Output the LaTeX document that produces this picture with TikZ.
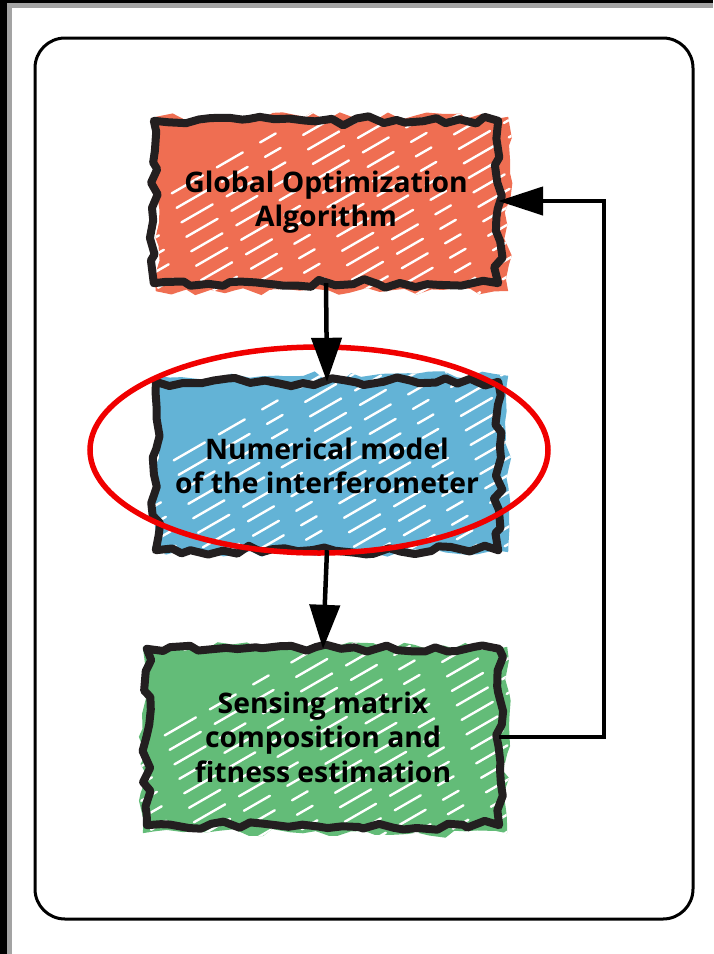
\documentclass[tikz,border=0pt]{standalone}
\usepackage{fontspec}
\setmainfont{Open Sans}
\usetikzlibrary{decorations.pathmorphing,arrows.meta,backgrounds,calc}
\definecolor{orfill}{HTML}{EF6E52}
\definecolor{blfill}{HTML}{63B3D6}
\definecolor{grfill}{HTML}{63BC78}
\definecolor{frgray}{HTML}{A3A3A3}
\definecolor{sketch}{HTML}{231F20}
\definecolor{ringred}{HTML}{F00000}
\newcommand\sketchbox[5]{%
  % #1 node, #2 colour, #3 seed, #4 fill offset NW, #5 fill offset SE
  \pgfmathsetseed{#3}
  \fill[#2, jag] ($(#1.north west)+#4$) rectangle ($(#1.south east)+#5$);
  \begin{scope}
    \pgfmathsetseed{#3}
    \clip[jag] ($(#1.north west)+#4$) rectangle ($(#1.south east)+#5$);
    \foreach \k in {0,...,20}
      \draw[hatch, dash phase=\k*29] ($(#1.south west)+(\k*30-190,30)$) -- ++(380,-219);
  \end{scope}
  \pgfmathsetseed{#3+7}
  \draw[border] (#1.north west) rectangle (#1.south east);
}
\begin{document}
\begin{tikzpicture}[x=1pt,y=-1pt,
  label/.style={font=\bfseries\fontsize{28.3}{34.5}\selectfont, align=center, inner sep=0pt, text=black},
  jag/.style={decorate, decoration={random steps, segment length=13pt, amplitude=4.6pt}},
  border/.style={jag, draw=sketch, line width=8pt, line join=round, line cap=round},
  hatch/.style={white, line width=2.4pt, line cap=round, dash pattern=on 30pt off 20pt on 18pt off 26pt on 36pt off 16pt},
  flow/.style={line width=4.5pt, -{Triangle[width=30pt,length=44pt]}},
  ring/.style={draw=ringred, line width=5.5pt}]
\useasboundingbox (0,0) rectangle (713,954);
% outer frame
\fill[black] (0,0) rectangle (7,954);
\fill[black] (0,0) rectangle (713,3);
\fill[frgray] (7,3) rectangle (713,8);
\fill[frgray] (7,3) rectangle (12,954);
\draw[line width=3pt, rounded corners=30pt] (35,38) rectangle (693,919);
% nodes
\node[label, minimum width=344pt, minimum height=162pt] (g) at (326,202) {Global Optimization\\Algorithm};
\node[label, minimum width=342pt, minimum height=168pt] (n) at (327,466) {Numerical model\\of the interferometer};
\node[label, minimum width=352pt, minimum height=176pt] (s) at (323,737) {Sensing matrix\\composition and\\fitness estimation};
\begin{pgfonlayer}{background}
  \sketchbox{g}{orfill}{11}{(2,-4)}{(10,8)}
  \sketchbox{n}{blfill}{23}{(0,-6)}{(10,2)}
  \sketchbox{s}{grfill}{37}{(-4,-2)}{(8,8)}
\end{pgfonlayer}
% red ring
\draw[ring] (319,450) ellipse [x radius=229, y radius=103];
% connectors
\coordinate (fb1) at (604,737);
\coordinate (fb2) at (604,201);
\draw[flow] (g.south) -- (n.north);
\draw[flow] (n.south) -- (s.north);
\draw[line width=4.5pt, line join=miter, -{Triangle[width=28pt,length=45pt]}] (s.east) -- (fb1) -- (fb2) -- (g.east |- fb2);
\end{tikzpicture}
\end{document}
